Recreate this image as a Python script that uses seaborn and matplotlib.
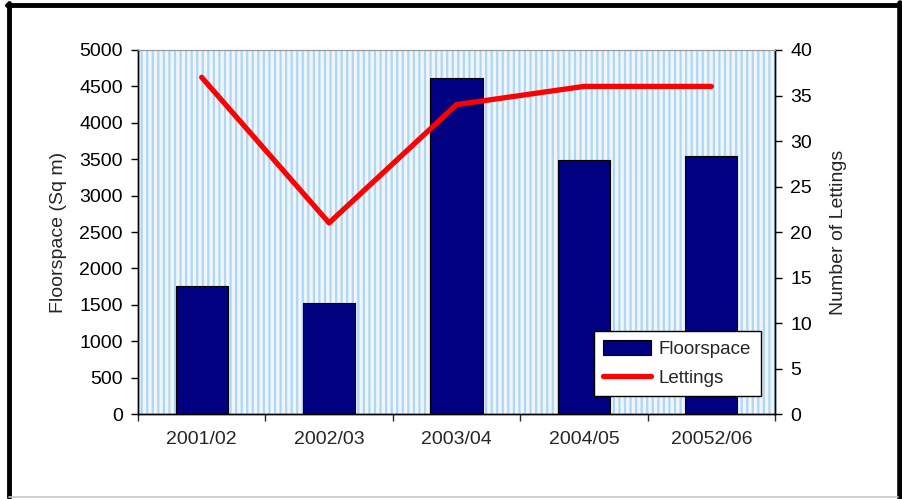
import matplotlib
matplotlib.use("Agg")
import matplotlib.pyplot as plt
import matplotlib.patches as mpatches
import matplotlib.lines as mlines
from matplotlib.ticker import MultipleLocator, FixedLocator
import numpy as np
import pandas as pd
import seaborn as sns

# Data
years = ["2001/02", "2002/03", "2003/04", "2004/05", "20052/06"]
floorspace = [1760, 1520, 4620, 3490, 3550]
lettings = [37, 21, 34, 36, 36]

sns.set_theme(style="white")
plt.rcParams["font.family"] = ["Liberation Sans", "DejaVu Sans"]
plt.rcParams["hatch.linewidth"] = 1.6
plt.rcParams["hatch.color"] = "#b0d6f2"

df = pd.DataFrame({"year": years, "floorspace": floorspace, "lettings": lettings})

fig = plt.figure(figsize=(9.03, 4.99), dpi=100)
ax = fig.add_axes([0.1528, 0.1703, 0.7055, 0.7295])

# hatched plot-area background
ax.patch.set_facecolor("#eef6fc")
ax.patch.set_hatch("|||")
ax.patch.set_edgecolor("#b0d6f2")

sns.barplot(data=df, x="year", y="floorspace", color="#000080", width=0.41,
            edgecolor="black", linewidth=0.8, saturation=1, ax=ax, zorder=3)
ax.set_xlim(-0.5, 4.5)
ax.set_ylim(0, 5000)
ax.yaxis.set_major_locator(MultipleLocator(500))

ax2 = ax.twinx()
sns.lineplot(x=np.arange(len(years)), y=df["lettings"], color="#ff0000",
             linewidth=3.8, ax=ax2, zorder=4)
ax2.set_ylim(0, 40)
ax2.yaxis.set_major_locator(MultipleLocator(5))
ax2.set_xlim(-0.5, 4.5)

for a in (ax, ax2):
    for s in a.spines.values():
        s.set_color("black")
        s.set_linewidth(1.0)
    a.spines["top"].set_color("#9a9a9a")
    a.spines["top"].set_linewidth(0.8)

ax.set_xlabel("")
ax.set_ylabel("Floorspace (Sq m)", fontsize=14, labelpad=9)
ax2.set_ylabel("Number of Lettings", fontsize=14, labelpad=13)

ax.tick_params(axis="y", left=True, direction="out", length=5, width=1, pad=6,
               labelsize=14, colors="black")
ax2.tick_params(axis="y", right=True, direction="out", length=5, width=1, pad=6,
                labelsize=14, colors="black")
ax.tick_params(axis="x", which="major", length=0, pad=12, labelsize=14)
ax.xaxis.set_minor_locator(FixedLocator(np.arange(-0.5, len(years), 1.0)))
ax.tick_params(axis="x", which="minor", bottom=True, direction="out", length=5, width=1)

# legend
h_bar = mpatches.Patch(facecolor="#000080", edgecolor="black", linewidth=0.8, label="Floorspace")
h_line = mlines.Line2D([], [], color="#ff0000", linewidth=3.8, label="Lettings")
leg = ax2.legend(handles=[h_bar, h_line], loc="lower left", bbox_to_anchor=(0.716, 0.049),
                 fontsize=13.5, frameon=True, fancybox=False, framealpha=1,
                 edgecolor="black", borderpad=0.5, handlelength=2.55, handleheight=0.8,
                 labelspacing=0.6, handletextpad=0.4, borderaxespad=0)
leg.get_frame().set_linewidth(1.0)

# outer border of the figure
W, H = 903, 499
fig.add_artist(mlines.Line2D([9 / W, 9 / W], [0.005, 1 - 3 / H], color="black", linewidth=3.5,
                             transform=fig.transFigure))
fig.add_artist(mlines.Line2D([7 / W, 900 / W], [1 - 5 / H, 1 - 5 / H], color="black", linewidth=3.5,
                             transform=fig.transFigure))
fig.add_artist(mlines.Line2D([900 / W, 900 / W], [0.0, 1 - 3 / H], color="black", linewidth=4,
                             transform=fig.transFigure))
fig.add_artist(mlines.Line2D([9 / W, 898 / W], [2 / H, 2 / H], color="#c8c8c8", linewidth=1.2,
                             transform=fig.transFigure))

fig.savefig("out.png", dpi=100)
